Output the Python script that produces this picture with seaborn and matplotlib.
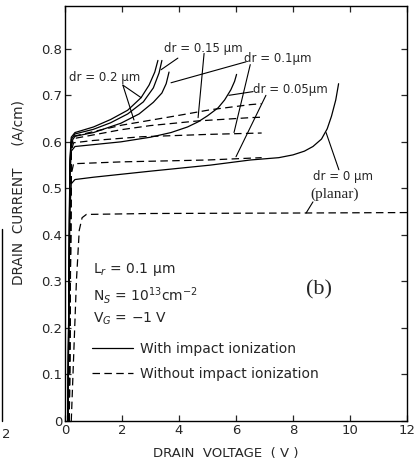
import matplotlib
matplotlib.use("Agg")
import matplotlib.pyplot as plt
import seaborn as sns
import pandas as pd
from matplotlib.lines import Line2D

# drain voltage (V) / drain current (A/cm)
# with impact ionization (solid)
v_dr0 = [0.10, 0.17, 0.22, 0.35, 1.0, 3.0, 5.1, 6.5, 7.5, 8.0, 8.4, 8.7, 9.0, 9.2, 9.35, 9.5, 9.6]
i_dr0 = [0.0, 0.45, 0.51, 0.519, 0.524, 0.537, 0.550, 0.561, 0.566, 0.572, 0.580, 0.590, 0.606, 0.628, 0.655, 0.690, 0.725]

v_dr005 = [0.10, 0.17, 0.22, 0.35, 1.96, 3.0, 3.72, 4.3, 4.67, 5.0, 5.37, 5.6, 5.82, 5.95, 6.02]
i_dr005 = [0.0, 0.52, 0.58, 0.59, 0.60, 0.61, 0.62, 0.632, 0.643, 0.656, 0.673, 0.69, 0.712, 0.73, 0.745]

v_dr01 = [0.10, 0.17, 0.22, 0.35, 1.0, 1.96, 2.6, 3.1, 3.4, 3.55, 3.65]
i_dr01 = [0.0, 0.54, 0.60, 0.612, 0.62, 0.64, 0.66, 0.685, 0.705, 0.725, 0.75]

v_dr015 = [0.10, 0.17, 0.22, 0.35, 1.0, 1.6, 2.2, 2.75, 3.1, 3.3, 3.4]
i_dr015 = [0.0, 0.55, 0.605, 0.617, 0.627, 0.641, 0.66, 0.686, 0.716, 0.748, 0.775]

v_dr02 = [0.10, 0.17, 0.22, 0.35, 1.0, 1.6, 2.2, 2.67, 2.95, 3.15, 3.26]
i_dr02 = [0.0, 0.56, 0.61, 0.62, 0.632, 0.648, 0.668, 0.695, 0.722, 0.75, 0.775]

# without impact ionization (dashed)
vn_dr0 = [0.22, 0.40, 0.50, 0.60, 0.75, 3.0, 8.0, 12.0]
in_dr0 = [0.0, 0.30, 0.41, 0.437, 0.444, 0.446, 0.447, 0.448]

vn_dr005 = [0.15, 0.22, 0.30, 2.0, 5.0, 6.9]
in_dr005 = [0.0, 0.53, 0.553, 0.557, 0.561, 0.566]

vn_dr01 = [0.15, 0.22, 0.30, 1.0, 2.7, 5.0, 6.9]
in_dr01 = [0.0, 0.58, 0.598, 0.603, 0.611, 0.616, 0.619]

vn_dr015 = [0.15, 0.22, 0.30, 1.0, 1.96, 3.0, 4.67, 6.5, 6.9]
in_dr015 = [0.0, 0.59, 0.607, 0.615, 0.626, 0.635, 0.645, 0.652, 0.653]

vn_dr02 = [0.15, 0.22, 0.30, 1.0, 2.0, 2.67, 4.0, 5.1, 6.5, 6.9]
in_dr02 = [0.0, 0.595, 0.612, 0.622, 0.636, 0.643, 0.657, 0.669, 0.680, 0.682]

x_ticks = [0, 2, 4, 6, 8, 10, 12]
y_ticks = [0, 0.1, 0.2, 0.3, 0.4, 0.5, 0.6, 0.7, 0.8]
y_tick_labels = ["0", "0.1", "0.2", "0.3", "0.4", "0.5", "0.6", "0.7", "0.8"]

solid_curves = [(v_dr0, i_dr0), (v_dr005, i_dr005), (v_dr01, i_dr01),
                (v_dr015, i_dr015), (v_dr02, i_dr02)]
dashed_curves = [(vn_dr0, in_dr0), (vn_dr005, in_dr005), (vn_dr01, in_dr01),
                 (vn_dr015, in_dr015), (vn_dr02, in_dr02)]

sns.set_style("ticks")
plt.rcParams["font.family"] = ["DejaVu Sans"]

fig = plt.figure(figsize=(4.17, 4.68), dpi=100)
ax = fig.add_axes([65 / 417, 47 / 468, 342 / 417, 415 / 468])

DASH = (0, (6, 3.5))
for v, i in solid_curves:
    df = pd.DataFrame({"V": v, "I": i})
    sns.lineplot(data=df, x="V", y="I", sort=False, estimator=None,
                 color="black", lw=0.9, ax=ax)
for v, i in dashed_curves:
    df = pd.DataFrame({"V": v, "I": i})
    sns.lineplot(data=df, x="V", y="I", sort=False, estimator=None,
                 color="black", lw=0.9, linestyle=DASH, ax=ax)

ax.set_xlim(0, 12)
ax.set_ylim(0, 0.892)
ax.set_xticks(x_ticks)
ax.set_xticklabels([str(t) for t in x_ticks])
ax.set_yticks(y_ticks)
ax.set_yticklabels(y_tick_labels)
ax.tick_params(direction="in", length=4, width=0.9, labelsize=9.5,
               top=True, right=True, pad=2)
for s in ax.spines.values():
    s.set_linewidth(1.0)
    s.set_color("black")

ax.set_xlabel("DRAIN  VOLTAGE  ( V )", fontsize=9.5)
ax.set_ylabel("DRAIN  CURRENT     (A/cm)", fontsize=9.8)
ax.yaxis.set_label_coords(-0.115, 0.55)
ax.xaxis.set_label_coords(0.47, -0.062)

# curve labels
fs = 8.5
ax.text(0.14, 0.738, "dr = 0.2 µm", fontsize=fs, va="center")
ax.text(3.47, 0.800, "dr = 0.15 µm", fontsize=fs, va="center")
ax.text(6.28, 0.780, "dr = 0.1µm", fontsize=fs, va="center")
ax.text(6.60, 0.712, "dr = 0.05µm", fontsize=fs, va="center")
ax.text(8.70, 0.525, "dr = 0 µm", fontsize=fs, va="center")
ax.text(8.60, 0.487, "(planar)", fontsize=11, va="center", family="Liberation Serif")
ax.text(8.45, 0.282, "(b)", fontsize=16, va="center", family="Liberation Serif")

# leader lines
leaders = [((2.03, 0.722), (2.67, 0.695)), ((2.03, 0.722), (2.42, 0.647)),
           ((3.96, 0.780), (3.37, 0.755)), ((4.88, 0.790), (4.67, 0.652)),
           ((6.35, 0.772), (3.72, 0.727)), ((6.50, 0.766), (5.93, 0.620)),
           ((6.60, 0.708), (5.75, 0.700)), ((7.05, 0.700), (6.00, 0.568)),
           ((9.61, 0.540), (9.16, 0.620)), ((8.70, 0.471), (8.46, 0.447))]
for start, end in leaders:
    ax.annotate("", xy=end, xytext=start,
                arrowprops=dict(arrowstyle="-", lw=0.8, color="black",
                                shrinkA=0, shrinkB=0))

# parameters
ax.text(0.98, 0.325, "L$_r$ = 0.1 µm", fontsize=10, va="center")
ax.text(0.98, 0.270, "N$_S$ = 10$^{13}$cm$^{-2}$", fontsize=10, va="center")
ax.text(0.98, 0.220, "V$_G$ = −1 V", fontsize=10, va="center")

handles = [Line2D([], [], color="black", lw=0.9),
           Line2D([], [], color="black", lw=0.9, linestyle=DASH)]
ax.legend(handles, ["With impact ionization", "Without impact ionization"],
          loc="upper left", bbox_to_anchor=(0.078, 0.19), frameon=False,
          fontsize=10, handlelength=3.0, handletextpad=0.5,
          labelspacing=0.75, borderpad=0, borderaxespad=0)

# edge of the neighbouring panel
fig.text(0.004, 0.072, "2", fontsize=9.5, va="center")
fig.add_artist(Line2D([0.005, 0.005], [0.10, 0.51], color="black", lw=1.0,
                      transform=fig.transFigure))

fig.savefig("out.png", dpi=100)
